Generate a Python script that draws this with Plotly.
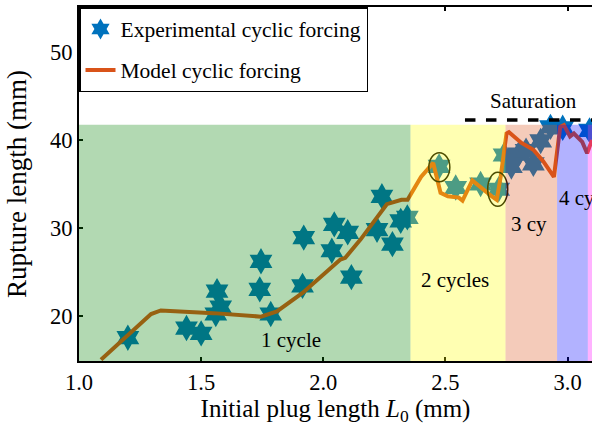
import plotly.graph_objects as go

# ---- data ----
x_exp = [1.20, 1.44, 1.50, 1.565, 1.58, 1.56, 1.745, 1.74, 1.785, 1.92, 1.915,
         2.045, 2.035, 2.10, 2.115, 2.24, 2.22, 2.283, 2.317, 2.344,
         2.474, 2.542, 2.644, 2.718, 2.74,
         2.77, 2.80, 2.83, 2.86, 2.89, 2.93, 2.98, 3.09]
y_exp = [17.5, 18.6, 18.0, 22.8, 21.0, 20.2, 26.2, 23.0, 20.2, 28.9, 23.4,
         30.4, 27.4, 29.5, 24.4, 33.6, 29.8, 28.15, 30.8, 31.2,
         37.0, 34.6, 35.0, 34.4, 38.3,
         37.0, 38.4, 38.8, 37.3, 39.9, 41.5, 41.4, 41.1]

x_model = [1.09, 1.295, 1.335, 1.55, 1.745, 1.81, 1.915, 2.07, 2.09, 2.153, 2.26,
           2.32, 2.345, 2.40, 2.45, 2.48, 2.51, 2.555, 2.57, 2.61, 2.69, 2.71,
           2.726, 2.75, 2.76, 2.81, 2.86, 2.90, 2.944, 2.97, 2.985, 3.01, 3.026,
           3.06, 3.08, 3.1]
y_model = [15.0, 20.2, 20.6, 20.3, 19.9, 20.5, 22.6, 26.4, 26.6, 28.7, 32.7,
           33.2, 33.2, 35.8, 37.4, 34.0, 33.6, 33.45, 33.1, 35.4, 33.6, 33.2,
           35.8, 40.75, 40.9, 39.7, 38.9, 37.6, 35.8, 41.5, 41.7, 40.4, 40.75,
           39.8, 38.5, 40.0]

region_edges = [1.0, 2.357, 2.746, 2.957, 3.083, 3.2]
region_colors = ["rgb(0,128,0)", "rgb(255,255,0)", "rgb(217,83,25)", "rgb(0,0,255)", "rgb(255,0,255)"]
region_top = 41.75
region_labels = ["1 cycle", "2 cycles", "3 cy", "4 cy"]
label_x = [1.867, 2.54, 2.76, 2.955]
label_y = [17.2, 24.05, 30.4, 33.4]

saturation_x = [2.58, 3.1]
saturation_y = 42.3

circled_x = [2.475, 2.714]
circled_y = [36.9, 34.4]
circle_half_w = [0.043, 0.041]
circle_half_h = [1.65, 1.94]

x_ticks = [1.0, 1.5, 2.0, 2.5, 3.0]
y_ticks = [20, 30, 40, 50]

FONT = "Liberation Serif"

fig = go.Figure()
fig.add_trace(go.Scatter(
    x=x_exp, y=y_exp, mode="markers", name="Experimental cyclic forcing",
    marker=dict(symbol="hexagram", size=20, color="#0072BD", line=dict(width=0)),
    legendgroup="a"))
fig.add_trace(go.Scatter(
    x=x_model, y=y_model, mode="lines", name="Model cyclic forcing",
    line=dict(color="#D95319", width=4), legendgroup="b"))

shapes = []
for cx, cy, hw, hh in zip(circled_x, circled_y, circle_half_w, circle_half_h):
    shapes.append(dict(type="circle", xref="x", yref="y", x0=cx - hw, x1=cx + hw,
                       y0=cy - hh, y1=cy + hh, line=dict(color="black", width=1.5),
                       layer="above"))
for i, c in enumerate(region_colors):
    shapes.append(dict(type="rect", xref="x", yref="y", x0=region_edges[i],
                       x1=region_edges[i + 1], y0=14.85, y1=region_top,
                       fillcolor=c, opacity=0.3, line=dict(width=0), layer="above"))
shapes.append(dict(type="line", xref="x", yref="y", x0=saturation_x[0], x1=saturation_x[1],
                   y0=saturation_y, y1=saturation_y,
                   line=dict(color="black", width=3.5, dash="dash"), layer="above"))

annotations = []
for t, ax_, ay_ in zip(region_labels, label_x, label_y):
    annotations.append(dict(x=ax_, y=ay_, xref="x", yref="y", text=t, showarrow=False,
                            xanchor="left" if t in ("4 cy", "3 cy") else "center",
                            font=dict(family=FONT, size=21, color="black")))
annotations.append(dict(x=2.862, y=44.4, xref="x", yref="y", text="Saturation",
                        showarrow=False, font=dict(family=FONT, size=21, color="black")))

fig.update_layout(
    width=592, height=427,
    margin=dict(l=79, r=0, t=7, b=66, autoexpand=False),
    paper_bgcolor="white", plot_bgcolor="white",
    font=dict(family=FONT, size=21, color="black"),
    shapes=shapes, annotations=annotations,
    showlegend=True,
    legend=dict(x=0, y=1, xanchor="left", yanchor="top", bgcolor="white",
                bordercolor="black", borderwidth=1.5, tracegroupgap=10,
                font=dict(family=FONT, size=21.5, color="black"),
                traceorder="grouped"),
    xaxis=dict(range=[1.0, 3.1], tickvals=x_ticks, ticktext=[f"{v:.1f}" for v in x_ticks],
               showgrid=False, zeroline=False, showline=True, linecolor="black",
               linewidth=2, mirror="ticks", ticks="inside", ticklen=4, tickwidth=2,
               tickcolor="black", tickfont=dict(family=FONT, size=22.5), automargin=False,
               title=dict(text="Initial plug length <i>L</i><sub>0</sub> (mm)",
                          font=dict(family=FONT, size=25), standoff=4)),
    yaxis=dict(range=[14.85, 55.15], tickvals=y_ticks, showgrid=False, zeroline=False,
               showline=True, linecolor="black", linewidth=2, mirror=False,
               ticks="inside", ticklen=4, tickwidth=2, tickcolor="black",
               tickfont=dict(family=FONT, size=22.5), automargin=False,
               title=dict(text="Rupture length (mm)", font=dict(family=FONT, size=27),
                          standoff=16)),
)

fig.write_html("out.html", config={"displayModeBar": False},
               post_script="document.body.style.margin='0';document.body.style.padding='0';")
